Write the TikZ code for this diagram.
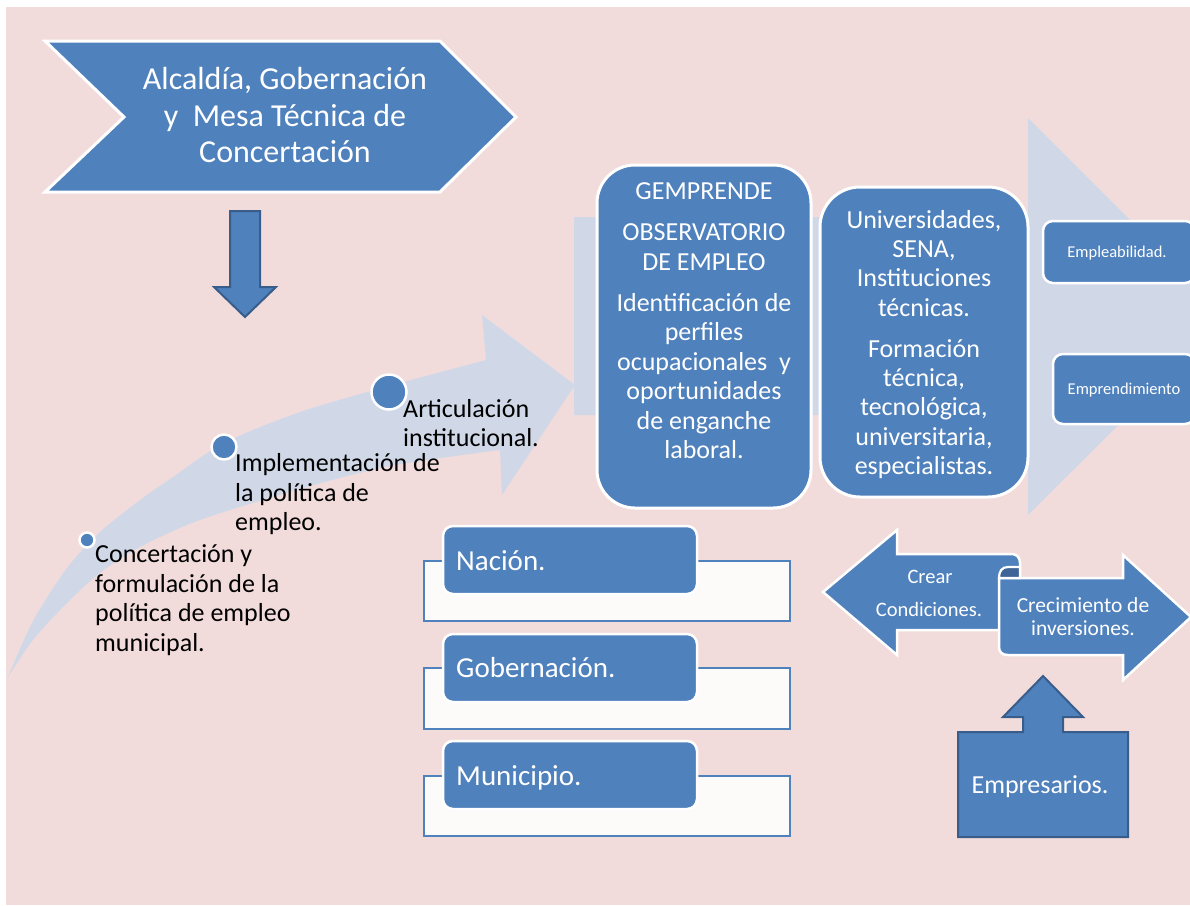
\documentclass[tikz,border=0pt]{standalone}
\usepackage{fontspec}
\setmainfont{Carlito}
\definecolor{bgpink}{RGB}{242,220,219}
\definecolor{myblue}{RGB}{79,129,189}
\definecolor{darkblue}{RGB}{56,93,138}
\definecolor{lightarr}{RGB}{208,216,232}
\definecolor{folddark}{RGB}{62,100,152}
\definecolor{nearwhite}{RGB}{253,250,250}
\begin{document}
\begin{tikzpicture}[x=1pt,y=-1pt,
  wbox/.style={draw=white, line width=3pt, fill=myblue},
  dbox/.style={draw=darkblue, line width=2pt, fill=myblue, line join=miter},
  wtxt/.style={text=white, inner sep=0pt, align=center},
  btxt/.style={text=black, inner sep=0pt, align=left},
  frame/.style={draw=myblue, line width=2pt, fill=nearwhite},
  tab/.style={draw=white, line width=2.5pt, fill=myblue, rounded corners=10pt},
  dot/.style={draw=white, line width=2.5pt, fill=myblue}
]
\useasboundingbox (0,0) rectangle (1190,905);
\fill[white] (0,0) rectangle (1190,905);
\fill[bgpink] (6,7) rectangle (1190,905);

% curved light arrow
\fill[lightarr] (8,677) -- plot[smooth] coordinates {(8,677) (33,621) (67,568) (100,532) (140,500) (173,477) (224,443) (300,412) (389,386) (486,360)}
  -- (482,315) -- (575,385) -- (502,495) -- (500,450)
  -- plot[smooth] coordinates {(500,450) (390,466) (300,489) (200,520) (140,547) (100,573) (67,603) (33,640) (8,677)} -- cycle;

% big light arrow
\fill[lightarr] (574,217) -- (1028,217) -- (1028,118) -- (1227,317) -- (1028,515) -- (1028,415) -- (574,415) -- cycle;

% chevron
\draw[wbox, line join=miter] (45,41) -- (440,41) -- (516,117) -- (440,192) -- (45,192) -- (124,117) -- cycle;
\node[wtxt, anchor=north, font=\fontsize{32}{36.6}\selectfont] (chev) at (285,67)
  {Alcaldía, Gobernación\\y\ \ Mesa Técnica de\\Concertación};

% down arrow
\draw[dbox] (230,211) -- (260,211) -- (260,287) -- (276,287) -- (245,317) -- (214,287) -- (230,287) -- cycle;

% circles
\draw[dot, line width=2.5pt] (87,540) circle (7.5);
\draw[dot] (224,447) circle (12.5);
\draw[dot] (389,392) circle (17.5);

\node[btxt, anchor=north west, font=\fontsize{26}{29.5}\selectfont] (art) at (403,399)
  {Articulación\\institucional.};
\node[btxt, anchor=north west, font=\fontsize{26}{29.5}\selectfont] (imp) at (235,453.5)
  {Implementación de\\la política de\\empleo.};
\node[btxt, anchor=north west, font=\fontsize{26}{29.5}\selectfont] (con) at (95,544.5)
  {Concertación y\\formulación de la\\política de empleo\\municipal.};

% GEMPRENDE box
\draw[wbox, rounded corners=38pt] (597,165) rectangle (811,508);
\node[wtxt, anchor=north, font=\fontsize{26}{29.5}\selectfont] (gem) at (704,182.5)
  {GEMPRENDE\\[11.5pt]OBSERVATORIO\\DE EMPLEO\\[11.5pt]Identificación de\\perfiles\\ocupacionales\ \ y\\oportunidades\\de enganche\\laboral.};

% Universidades box
\draw[wbox, rounded corners=40pt] (820,187) rectangle (1028,497);
\node[wtxt, anchor=north, font=\fontsize{26}{29.3}\selectfont] (uni) at (924,210)
  {Universidades,\\SENA,\\Instituciones\\técnicas.\\[11.7pt]Formación\\técnica,\\tecnológica,\\universitaria,\\especialistas.};

% small boxes
\draw[wbox, line width=2.5pt, rounded corners=10pt] (1043,221) rectangle (1195,283);
\node[wtxt, anchor=base, font=\fontsize{16.5}{18}\selectfont] (empl) at (1117,257) {Empleabilidad.};
\draw[wbox, line width=2.5pt, rounded corners=10pt] (1053,354) rectangle (1195,424);
\node[wtxt, anchor=base, font=\fontsize{16.5}{18}\selectfont] (empr) at (1124,394) {Emprendimiento};

% levels
\draw[frame] (424,561) rectangle (790,621);
\draw[tab] (443,526) rectangle (697,594);
\node[wtxt, anchor=base west, font=\fontsize{29}{32}\selectfont] (nac) at (456,570) {Nación.};
\draw[frame] (424,668) rectangle (790,729);
\draw[tab] (443,634) rectangle (697,702);
\node[wtxt, anchor=base west, font=\fontsize{29}{32}\selectfont] (gob) at (456,677) {Gobernación.};
\draw[frame] (424,776) rectangle (790,836);
\draw[tab] (443,741) rectangle (697,809);
\node[wtxt, anchor=base west, font=\fontsize{29}{32}\selectfont] (mun) at (456,785) {Municipio.};

% left arrow
\draw[wbox, line width=2.5pt, line join=miter] (823,592) -- (897,530) -- (897,554) -- (1012,554)
  .. controls (1017,554) and (1020,558) .. (1020,563) -- (1020,630) -- (897,630) -- (897,655) -- cycle;
\node[wtxt, anchor=base, font=\fontsize{20.5}{24}\selectfont] (crear) at (930,583.5) {Crear};
\node[wtxt, anchor=base, font=\fontsize{20.5}{24}\selectfont] (cond) at (929,616.5) {Condiciones.};

% right arrow
\draw[wbox, line width=2.5pt, line join=miter] (999,578) -- (1123,578) -- (1123,555) -- (1191,617) -- (1123,680) -- (1123,655) -- (1008,655)
  .. controls (1002,655) and (999,652) .. (999,647) -- cycle;
\draw[white, line width=2.2pt, fill=folddark] (999,578) .. controls (999,571) and (1002,567) .. (1008,567) -- (1020,567) -- (1020,578) -- cycle;
\node[wtxt, anchor=base, font=\fontsize{21.5}{24}\selectfont] (crec) at (1083,612.7) {Crecimiento de};
\node[wtxt, anchor=base, font=\fontsize{21.5}{24}\selectfont] (inv) at (1083,635.7) {inversiones.};

% empresarios
\draw[dbox] (958,732) -- (1023,732) -- (1023,717) -- (1003,717) -- (1043,676) -- (1083,717) -- (1063,717) -- (1063,732) -- (1128,732) -- (1128,837) -- (958,837) -- cycle;
\node[wtxt, anchor=base, font=\fontsize{26}{30}\selectfont] (emp) at (1040,793) {Empresarios.};
\end{tikzpicture}
\end{document}
